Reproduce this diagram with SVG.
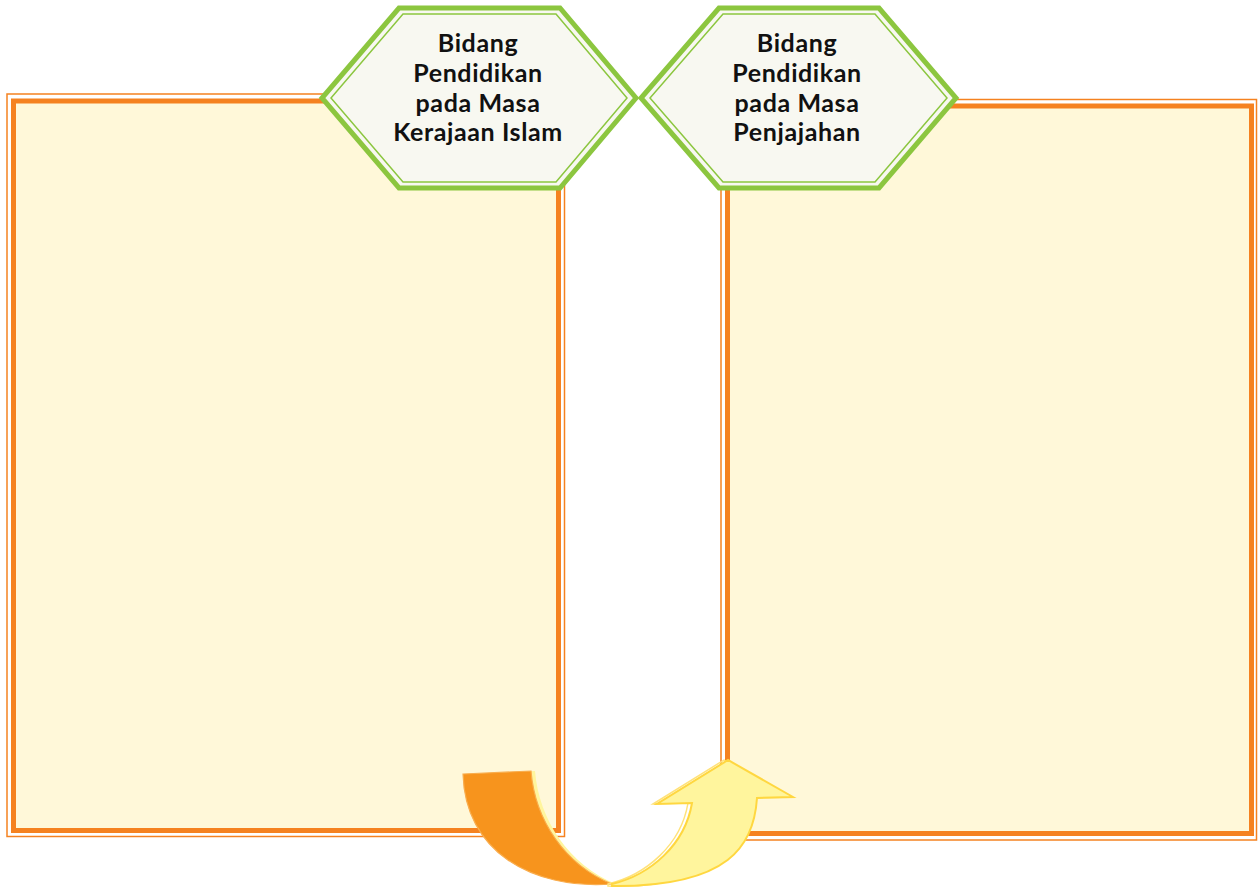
<svg xmlns="http://www.w3.org/2000/svg" width="1258" height="887" viewBox="0 0 1258 887">
<style>
.thick{fill:#fff8d9;stroke:#f58220;stroke-width:5}
.thin{fill:none;stroke:#f58220;stroke-width:1.5}
.hexo{fill:#f8f8f1;stroke:#8cc63f;stroke-width:5;stroke-linejoin:miter}
.hexi{fill:none;stroke:#8cc63f;stroke-width:1.5}
.lbl{font-family:Lato,"Open Sans","DejaVu Sans",sans-serif;font-weight:700;font-size:25px;letter-spacing:0.6px;fill:#111;text-anchor:middle}
</style>
<rect width="1258" height="887" fill="#fff"/>
<g id="box-left">
<rect class="thin" x="7" y="94" width="557.5" height="742.5"/>
<rect class="thick" x="13.5" y="101" width="545" height="729.5"/>
</g>
<g id="box-right">
<rect class="thin" x="721" y="99.5" width="535.5" height="740.5"/>
<rect class="thick" x="727.5" y="106" width="524" height="727.5"/>
</g>
<g id="hex-left">
<polygon class="hexo" points="399,8 560,8 636,98 560,188 399,188 322,98"/>
<polygon class="hexi" points="403,14 556,14 627,98 556,182 403,182 331,98"/>
<text class="lbl" x="478" y="52">Bidang</text>
<text class="lbl" x="478" y="82">Pendidikan</text>
<text class="lbl" x="478" y="112">pada Masa</text>
<text class="lbl" x="478" y="141">Kerajaan Islam</text>
</g>
<g id="hex-right">
<polygon class="hexo" points="719,8 879,8 956,98 879,188 719,188 641,98"/>
<polygon class="hexi" points="723,14 875,14 947,98 875,182 723,182 650,98"/>
<text class="lbl" x="797" y="52">Bidang</text>
<text class="lbl" x="797" y="82">Pendidikan</text>
<text class="lbl" x="797" y="112">pada Masa</text>
<text class="lbl" x="797" y="141">Penjajahan</text>
</g>
<g id="connectors">
<path d="M467,774 L535,771 C539,820 569,865 616,884 C560,892 475,852 467,774 Z" fill="#fff59d"/>
<path d="M463,774 L531,771 C535,820 565,865 612,884 C530,890 465,850 463,774 Z" fill="#f7941d" stroke="#f9ad4e" stroke-width="1.2"/>
<path d="M608,884 C646,875 681,845 688,803 L653,804 L724,760 L789,797 L753,798 C748,850 700,890 608,886 Z" fill="none" stroke="#ffe27a" stroke-width="1.5"/>
<path d="M612,884 C650,875 685,845 692,803 L657,804 L728,760 L793,797 L757,798 C754,845 730,887 612,886 Z" fill="#fff59d" stroke="#ffd740" stroke-width="2" stroke-linejoin="miter"/>
</g>
</svg>
